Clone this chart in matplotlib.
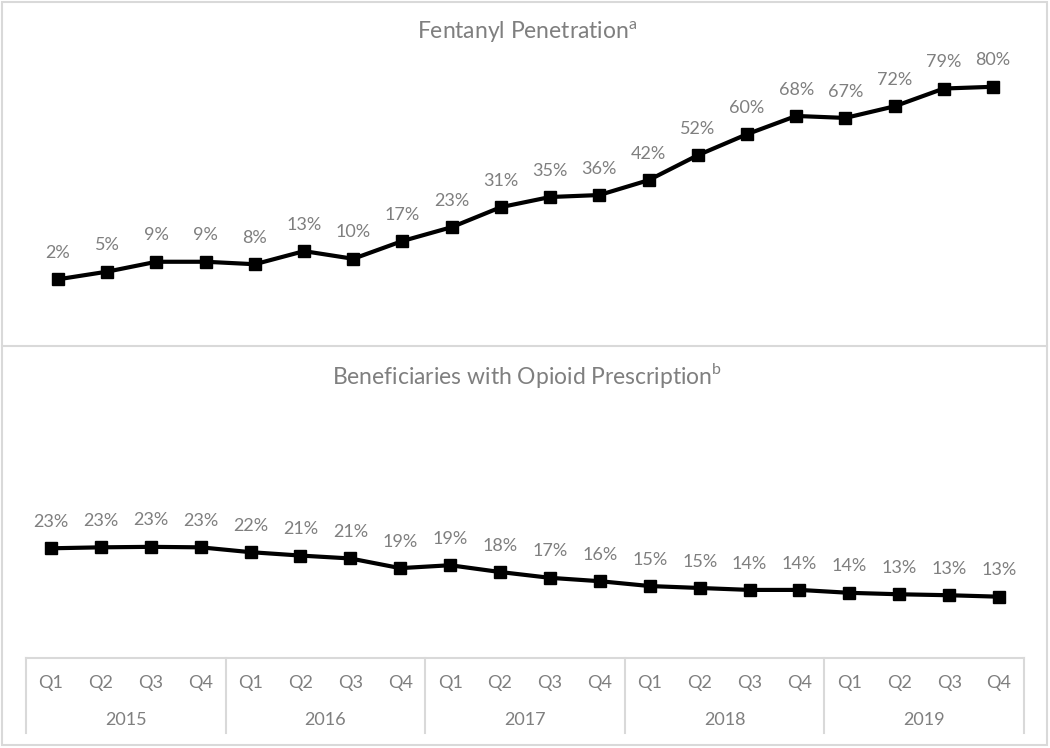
import matplotlib.pyplot as plt
from matplotlib.patches import Rectangle
from matplotlib.lines import Line2D

plt.rcParams['font.family'] = ['Lato', 'DejaVu Sans']

# Datos
trimestres = ['Q1', 'Q2', 'Q3', 'Q4'] * 5
anios = ['2015', '2016', '2017', '2018', '2019']

fentanilo = [1.9, 5.0, 9.0, 9.0, 8.0, 13.3, 10.2, 17.4, 23.0, 31.1,
             35.2, 36.0, 42.0, 52.1, 60.6, 68.0, 67.2, 71.9, 79.1, 79.8]
fentanilo_etiquetas = ['2%', '5%', '9%', '9%', '8%', '13%', '10%', '17%', '23%', '31%',
                       '35%', '36%', '42%', '52%', '60%', '68%', '67%', '72%', '79%', '80%']

opioides = [23.0, 23.2, 23.3, 23.2, 22.2, 21.5, 20.9, 18.9, 19.5, 18.1,
            16.9, 16.2, 15.2, 14.8, 14.4, 14.4, 13.8, 13.5, 13.3, 13.0]
opioides_etiquetas = ['23%', '23%', '23%', '23%', '22%', '21%', '21%', '19%', '19%', '18%',
                      '17%', '16%', '15%', '15%', '14%', '14%', '14%', '13%', '13%', '13%']

W, H = 1050, 748
GRIS_TEXTO = '#7f7f7f'
GRIS_LINEA = '#d9d9d9'


def caja(x0, y0, x1, y1):
    # convierte pixeles (origen arriba-izquierda) a coordenadas de figura
    return [x0 / W, 1 - y1 / H, (x1 - x0) / W, (y1 - y0) / H]


fig = plt.figure(figsize=(W / 100, H / 100), dpi=100)

# Bordes de los paneles
fig.add_artist(Rectangle((2 / W, 1 - 745 / H), 1045 / W, 743 / H, transform=fig.transFigure,
                         fill=False, edgecolor=GRIS_LINEA, linewidth=1.5))
fig.add_artist(Line2D([2 / W, 1047 / W], [1 - 346 / H] * 2, transform=fig.transFigure,
                      color=GRIS_LINEA, linewidth=1.5))

x = list(range(len(fentanilo)))

# Panel superior
ax1 = fig.add_axes(caja(33.4, 86.3, 1017.6, 284))
ax1.plot(x, fentanilo, color='black', linewidth=3, marker='s', markersize=9, clip_on=False)
for xi, yi, et in zip(x, fentanilo, fentanilo_etiquetas):
    ax1.annotate(et, (xi, yi), xytext=(0, 19), textcoords='offset points', annotation_clip=False,
                 ha='center', va='center', color=GRIS_TEXTO, fontsize=13)
ax1.set_xlim(-0.5, 19.5)
ax1.set_ylim(0, 80)
ax1.axis('off')
fig.text(527 / W, 1 - 32 / H, r'Fentanyl Penetration$^{\mathregular{a}}$', ha='center', va='center',
         color=GRIS_TEXTO, fontsize=16.5)

# Panel inferior
ax2 = fig.add_axes(caja(26, 548.3, 1024, 659.6))
ax2.plot(x, opioides, color='black', linewidth=3, marker='s', markersize=9, clip_on=False)
for xi, yi, et in zip(x, opioides, opioides_etiquetas):
    ax2.annotate(et, (xi, yi), xytext=(0, 19), textcoords='offset points', annotation_clip=False,
                 ha='center', va='center', color=GRIS_TEXTO, fontsize=13)
ax2.set_xlim(-0.5, 19.5)
ax2.set_ylim(0, 23)
ax2.axis('off')
fig.text(527 / W, 1 - 376 / H, r'Beneficiaries with Opioid Prescription$^{\mathregular{b}}$',
         ha='center', va='center', color=GRIS_TEXTO, fontsize=16.5)

# Eje de categorias en dos niveles
ax3 = fig.add_axes(caja(26, 658, 1024, 733))
ax3.set_xlim(-0.5, 19.5)
ax3.set_ylim(1, 0)
ax3.axis('off')
ax3.axhline(0, color=GRIS_LINEA, linewidth=1.5, clip_on=False)
for k in range(len(anios) + 1):
    ax3.axvline(4 * k - 0.5, color=GRIS_LINEA, linewidth=1.5, clip_on=False)
for xi, q in zip(x, trimestres):
    ax3.text(xi, 0.33, q, ha='center', va='center', color=GRIS_TEXTO, fontsize=13)
for k, anio in enumerate(anios):
    ax3.text(4 * k + 1.5, 0.83, anio, ha='center', va='center', color=GRIS_TEXTO, fontsize=13)

fig.savefig('out.png', dpi=100)
